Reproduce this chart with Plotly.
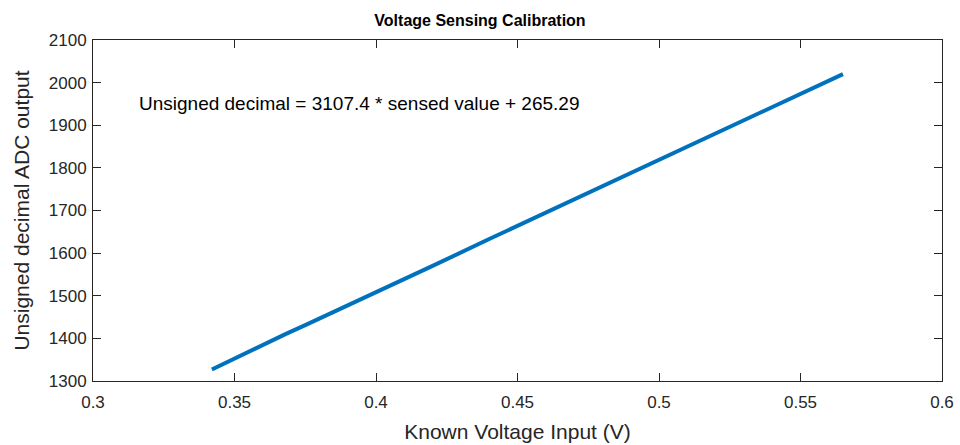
import plotly.graph_objects as go

voltage = [0.342, 0.35, 0.36, 0.368, 0.375, 0.39, 0.40, 0.42, 0.44, 0.46, 0.48,
           0.50, 0.51, 0.52, 0.53, 0.535, 0.54, 0.55, 0.565]
adc = [1327, 1353, 1384, 1410, 1431, 1477, 1507, 1570, 1633, 1695, 1757,
       1820, 1851, 1882, 1911, 1929, 1943, 1974, 2020]

x_ticks = [0.3, 0.35, 0.4, 0.45, 0.5, 0.55, 0.6]
x_tick_text = ["0.3", "0.35", "0.4", "0.45", "0.5", "0.55", "0.6"]
y_ticks = [1300, 1400, 1500, 1600, 1700, 1800, 1900, 2000, 2100]

axis_color = "#262626"
font_family = "Liberation Sans, Arial, sans-serif"

fig = go.Figure()
fig.add_trace(go.Scatter(x=voltage, y=adc, mode="lines",
                         line=dict(color="#0072BD", width=4), showlegend=False))

fig.add_annotation(x=0.3155, y=1952, xref="x", yref="y", xanchor="left", yanchor="middle",
                   text="Unsigned decimal = 3107.4 * sensed value + 265.29",
                   showarrow=False, font=dict(size=19, color="#000000", family=font_family))

axis_common = dict(showline=True, linecolor=axis_color, linewidth=1, mirror="ticks",
                   ticks="inside", ticklen=8, tickcolor=axis_color, showgrid=False,
                   zeroline=False, automargin=False,
                   tickfont=dict(size=17, color=axis_color, family=font_family))

fig.update_layout(
    width=960, height=445,
    margin=dict(l=93, r=18, t=40, b=64),
    paper_bgcolor="white", plot_bgcolor="white",
    title=dict(text="<b>Voltage Sensing Calibration</b>", x=0.5, xanchor="center",
               y=1 - 20 / 445, yanchor="middle",
               font=dict(size=16, color="#000000", family=font_family)),
    xaxis=dict(range=[0.3, 0.6], tickvals=x_ticks, ticktext=x_tick_text,
               ticklabelstandoff=6,
               title=dict(text="Known Voltage Input (V)", standoff=12,
                          font=dict(size=21, color=axis_color, family=font_family)),
               **axis_common),
    yaxis=dict(range=[1300, 2100], tickvals=y_ticks, ticklabelstandoff=2,
               title=dict(text="Unsigned decimal ADC output", standoff=13,
                          font=dict(size=21, color=axis_color, family=font_family)),
               **axis_common),
)

fig.write_html("out.html")
